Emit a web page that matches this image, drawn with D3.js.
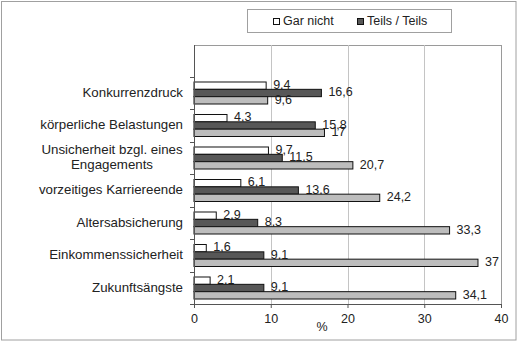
<!DOCTYPE html>
<html>
<head>
<meta charset="utf-8">
<script src="https://cdn.jsdelivr.net/npm/d3@7"></script>
<style>
  html, body { margin: 0; padding: 0; background: #fff; }
  svg { display: block; font-family: "Liberation Sans", Arial, sans-serif; }
</style>
</head>
<body>
<svg id="chart" width="531" height="342"></svg>
<script>
// ---- data ----
const categories = [
  "Konkurrenzdruck",
  "körperliche Belastungen",
  "Unsicherheit bzgl. eines|Engagements",
  "vorzeitiges Karriereende",
  "Altersabsicherung",
  "Einkommenssicherheit",
  "Zukunftsängste"
];
const seriesNames = ["Gar nicht", "Teils / Teils", "Stark"];
const garNicht   = [9.4, 4.3, 9.7, 6.1, 2.9, 1.6, 2.1];
const teilsTeils = [16.6, 15.8, 11.5, 13.6, 8.3, 9.1, 9.1];
const stark      = [9.6, 17, 20.7, 24.2, 33.3, 37, 34.1];
const xTicks = [0, 10, 20, 30, 40];
const legendNames = ["Gar nicht", "Teils / Teils"];

const seriesValues = [garNicht, teilsTeils, stark];
const fills = ["#ffffff", "#575757", "#bdbdbd"];

const svg = d3.select("#chart");

// outer border
svg.append("rect").attr("x", 1.5).attr("y", 1.5).attr("width", 514.5).attr("height", 338.5)
  .attr("fill", "none").attr("stroke", "#a0a0a0").attr("stroke-width", 1);

const plotL = 194, plotR = 501, plotT = 45, plotB = 304;

const x = d3.scaleLinear().domain([0, 40]).range([plotL, plotR]);
const y = d3.scaleBand().domain(categories).range([76.75, 304.25])
  .paddingInner(0.323).paddingOuter(0.1615);
const ySub = d3.scaleBand().domain(seriesNames).range([0, y.bandwidth()]);

// plot area border (top/right) and gridlines
svg.append("line").attr("x1", plotL).attr("x2", plotR).attr("y1", plotT + 0.5).attr("y2", plotT + 0.5)
  .attr("stroke", "#9a9a9a");
svg.append("line").attr("x1", plotR + 0.5).attr("x2", plotR + 0.5).attr("y1", plotT).attr("y2", plotB)
  .attr("stroke", "#9a9a9a");
svg.selectAll("line.grid").data(xTicks.filter(t => t > 0 && t < 40)).join("line")
  .attr("class", "grid")
  .attr("x1", d => Math.round(x(d)) + 0.5).attr("x2", d => Math.round(x(d)) + 0.5)
  .attr("y1", plotT).attr("y2", plotB)
  .attr("stroke", "#c4c4c4");

// bars
const fmt = v => String(v).replace(".", ",");
categories.forEach((c, i) => {
  seriesNames.forEach((s, j) => {
    const v = seriesValues[j][i];
    const y0 = y(c) + ySub(s);
    svg.append("rect")
      .attr("x", x(0)).attr("y", y0)
      .attr("width", x(v) - x(0)).attr("height", ySub.bandwidth())
      .attr("fill", fills[j]).attr("stroke", "#111").attr("stroke-width", 1);
    svg.append("text")
      .attr("x", x(v) + 7).attr("y", y0 + ySub.bandwidth() / 2)
      .attr("dominant-baseline", "middle")
      .attr("font-size", 12.5).attr("fill", "#222")
      .text(fmt(v));
  });
});

// x axis
const xAxis = d3.axisBottom(x).tickValues(xTicks).tickSize(4).tickPadding(6).tickFormat(d => d);
const gx = svg.append("g").attr("transform", `translate(0,${plotB})`).call(xAxis);
gx.select(".domain").attr("stroke", "#555");
gx.selectAll(".tick line").attr("stroke", "#555");
gx.selectAll(".tick text").attr("font-size", 12.5).attr("fill", "#222")
  .attr("font-family", "'Liberation Sans', Arial, sans-serif");

svg.append("text").attr("x", 322).attr("y", 331).attr("text-anchor", "middle")
  .attr("font-size", 12.5).attr("fill", "#222").text("%");

// y axis line and ticks at category boundaries
svg.append("line").attr("x1", plotL + 0.5).attr("x2", plotL + 0.5).attr("y1", plotT).attr("y2", plotB)
  .attr("stroke", "#555");
const step = y.step();
const bounds = d3.range(categories.length + 1).map(i => 76.75 + i * step);
svg.selectAll("line.ytick").data(bounds).join("line").attr("class", "ytick")
  .attr("x1", plotL - 4).attr("x2", plotL)
  .attr("y1", d => Math.round(d) + 0.5).attr("y2", d => Math.round(d) + 0.5)
  .attr("stroke", "#555");

// category labels
categories.forEach(c => {
  const lines = c.split("|");
  const cy = y(c) + y.bandwidth() / 2;
  const t = svg.append("text").attr("font-size", 13.3).attr("fill", "#222");
  if (lines.length === 1) {
    t.attr("x", 183).attr("y", cy).attr("text-anchor", "end")
      .attr("dominant-baseline", "middle").text(c);
  } else {
    t.attr("text-anchor", "middle");
    lines.forEach((l, k) => {
      t.append("tspan").attr("x", 112)
        .attr("y", cy + (k - (lines.length - 1) / 2) * 15)
        .attr("dominant-baseline", "middle").text(l);
    });
  }
});

// legend
svg.append("rect").attr("x", 247.5).attr("y", 9.5).attr("width", 204).attr("height", 23)
  .attr("fill", "#fff").attr("stroke", "#a0a0a0");
const legX = [273, 357];
legendNames.forEach((n, k) => {
  svg.append("rect").attr("x", legX[k] + 0.5).attr("y", 18.5).attr("width", 6).attr("height", 6)
    .attr("fill", fills[k]).attr("stroke", "#111");
  svg.append("text").attr("x", legX[k] + 10).attr("y", 21.5)
    .attr("dominant-baseline", "middle").attr("font-size", 12.5).attr("fill", "#222").text(n);
});
</script>
</body>
</html>
